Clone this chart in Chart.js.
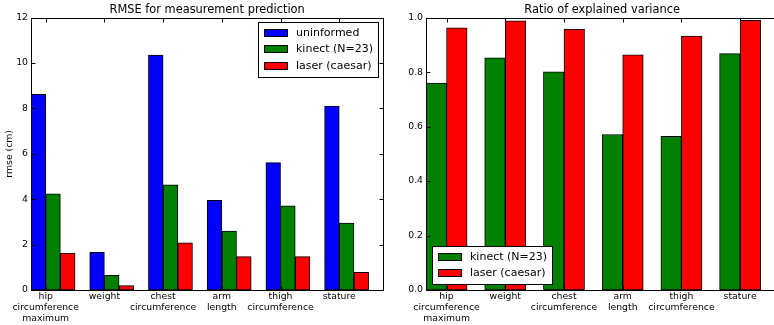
<!DOCTYPE html>
<html>
<head>
<meta charset="utf-8">
<script src="https://cdn.jsdelivr.net/npm/chart.js@4/dist/chart.umd.min.js"></script>
<style>
  body { margin: 0; width: 774px; height: 325px; overflow: hidden; background: #fff; position: relative; }
  #rmse-box { position: absolute; left: 0; top: 0; }
  #var-box { position: absolute; left: 390px; top: 0; }
</style>
</head>
<body>
<div id="rmse-box"><canvas id="bieu-do-rmse" width="390" height="325"></canvas></div>
<div id="var-box"><canvas id="bieu-do-var" width="400" height="325"></canvas></div>
<script>
// data
const categories = [['hip', 'circumference', 'maximum'], 'weight', ['chest', 'circumference'], ['arm', 'length'], ['thigh', 'circumference'], 'stature'];
const rmseUninformed = [8.62, 1.66, 10.35, 3.95, 5.61, 8.10];
const rmseKinect = [4.24, 0.65, 4.63, 2.60, 3.71, 2.95];
const rmseLaser = [1.63, 0.19, 2.08, 1.47, 1.47, 0.78];
const varKinect = [0.760, 0.853, 0.801, 0.571, 0.564, 0.868];
const varLaser = [0.963, 0.988, 0.958, 0.864, 0.932, 0.990];
const rmseTicks = [0, 2, 4, 6, 8, 10, 12];
const varTicks = [0.0, 0.2, 0.4, 0.6, 0.8, 1.0];

const FONT = '"DejaVu Sans", sans-serif';

// bar k of a group of bars, each `width` wide, starting at index i (like matplotlib ind + k*width)
function barData(values, width, k) {
  return values.map((v, i) => ({ x: i + width * (k + 0.5), y: v }));
}

// box around the axes with inward tick marks
const frame = {
  id: 'frame',
  afterDatasetsDraw(chart) {
    const { ctx, chartArea: a, scales: { x, y } } = chart;
    const l = Math.round(a.left) + 0.5, r = Math.round(a.right) + 0.5;
    const t = Math.round(a.top) + 0.5, b = Math.round(a.bottom) + 0.5;
    ctx.save();
    ctx.strokeStyle = '#000';
    ctx.lineWidth = 1;
    ctx.beginPath();
    y.ticks.forEach(tk => {
      const py = Math.round(y.getPixelForValue(tk.value)) + 0.5;
      ctx.moveTo(l, py); ctx.lineTo(l + 4, py);
      ctx.moveTo(r, py); ctx.lineTo(r - 4, py);
    });
    x.ticks.forEach(tk => {
      const px = Math.round(x.getPixelForValue(tk.value)) + 0.5;
      ctx.moveTo(px, b); ctx.lineTo(px, b - 4);
      ctx.moveTo(px, t); ctx.lineTo(px, t + 4);
    });
    ctx.stroke();
    ctx.strokeRect(l, t, r - l, b - t);
    ctx.restore();
  }
};

// matplotlib style legend box inside the axes
const legendBox = {
  id: 'legendBox',
  afterDatasetsDraw(chart, args, opts) {
    const { ctx, chartArea: a } = chart;
    const items = chart.data.datasets;
    ctx.save();
    ctx.font = '11px ' + FONT;
    const textW = Math.max(...items.map(d => ctx.measureText(d.label).width));
    const w = Math.round(6 + 23 + 9 + textW + 5);
    const rowH = 16.5;
    const h = Math.round(items.length * rowH + 5);
    let x, y;
    if (opts.corner === 'upper right') {
      x = Math.round(a.right - 5 - w); y = Math.round(a.top + 4.5);
    } else {
      x = Math.round(a.left + 6); y = Math.round(a.bottom - 6 - h);
    }
    ctx.fillStyle = '#fff';
    ctx.fillRect(x, y, w, h);
    ctx.strokeStyle = '#000';
    ctx.lineWidth = 1;
    ctx.strokeRect(x + 0.5, y + 0.5, w, h);
    items.forEach((d, i) => {
      const cy = Math.round(y + 2.5 + rowH * i + rowH / 2);
      ctx.fillStyle = d.backgroundColor;
      ctx.fillRect(x + 6, cy - 4, 23, 7);
      ctx.strokeRect(x + 6.5, cy - 3.5, 23, 7);
      ctx.fillStyle = '#000';
      ctx.textBaseline = 'middle';
      ctx.fillText(d.label, x + 38, cy);
    });
    ctx.restore();
  }
};

function makeOptions(title, yTicks, yFmt, yTitle, tickShift, yWidth, padRight, corner) {
  return {
    responsive: false,
    animation: false,
    layout: { padding: { left: 0, right: padRight, top: 0, bottom: 0 } },
    scales: {
      x: {
        type: 'linear',
        min: 0,
        max: 6,
        offset: false,
        grid: { display: false, offset: false, drawTicks: false },
        border: { display: false },
        afterBuildTicks: s => { s.ticks = categories.map((c, i) => ({ value: i + tickShift })); },
        afterFit: s => { s.height = 35; },
        ticks: {
          autoSkip: false,
          maxRotation: 0,
          padding: 1,
          color: '#000',
          font: { family: FONT, size: 9.3, lineHeight: 1.2 },
          callback: (v, i) => categories[i]
        }
      },
      y: {
        min: yTicks[0],
        max: yTicks[yTicks.length - 1],
        grid: { display: false, drawTicks: false },
        border: { display: false },
        afterBuildTicks: s => { s.ticks = yTicks.map(v => ({ value: v })); },
        afterFit: s => { s.width = yWidth; },
        title: {
          display: !!yTitle,
          text: yTitle,
          color: '#000',
          padding: { top: 4, bottom: 0 },
          font: { family: FONT, size: 9.3, lineHeight: 1.2 }
        },
        ticks: {
          padding: 3,
          color: '#000',
          font: { family: FONT, size: 9.3 },
          callback: yFmt
        }
      }
    },
    plugins: {
      legend: { display: false },
      tooltip: { enabled: false },
      title: {
        display: true,
        text: title,
        fullSize: false,
        color: '#000',
        padding: { top: 3, bottom: 1 },
        font: { family: FONT, size: 11.4, weight: 'normal', lineHeight: 1.2 }
      },
      legendBox: { corner: corner }
    }
  };
}

const barStyle = { borderColor: '#000', borderWidth: 1, borderSkipped: false, grouped: false, categoryPercentage: 1, barPercentage: 1 };

// RMSE chart
const rmseWidth = 0.25;
const config_rmse = {
  type: 'bar',
  data: {
    datasets: [
      { label: 'uninformed', data: barData(rmseUninformed, rmseWidth, 0), backgroundColor: '#0000ff', ...barStyle },
      { label: 'kinect (N=23)', data: barData(rmseKinect, rmseWidth, 1), backgroundColor: '#008000', ...barStyle },
      { label: 'laser (caesar)', data: barData(rmseLaser, rmseWidth, 2), backgroundColor: '#ff0000', ...barStyle }
    ]
  },
  options: makeOptions('RMSE for measurement prediction', rmseTicks, v => v, 'rmse (cm)', rmseWidth, 31, 6.7, 'upper right'),
  plugins: [frame, legendBox]
};

// explained variance chart
const varWidth = 0.35;
const config_var = {
  type: 'bar',
  data: {
    datasets: [
      { label: 'kinect (N=23)', data: barData(varKinect, varWidth, 0), backgroundColor: '#008000', ...barStyle },
      { label: 'laser (caesar)', data: barData(varLaser, varWidth, 1), backgroundColor: '#ff0000', ...barStyle }
    ]
  },
  options: makeOptions('Ratio of explained variance', varTicks, v => v.toFixed(1), '', varWidth, 36, 11.7, 'lower left'),
  plugins: [frame, legendBox]
};

const bieuDoRmse = new Chart(document.getElementById('bieu-do-rmse'), config_rmse);
const bieuDoVar = new Chart(document.getElementById('bieu-do-var'), config_var);
</script>
</body>
</html>
